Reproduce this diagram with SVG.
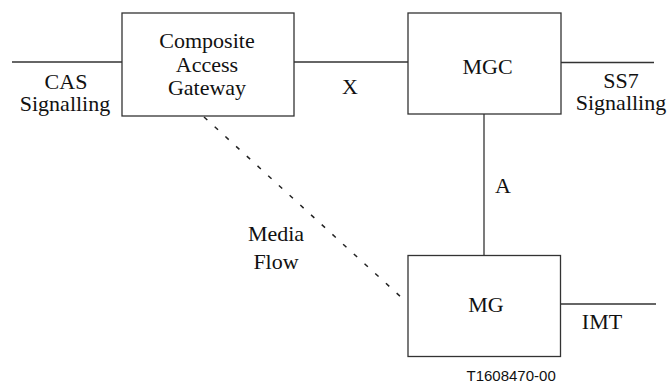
<svg xmlns="http://www.w3.org/2000/svg" width="669" height="384" viewBox="0 0 669 384">
<style>
.box{fill:#fff;stroke:#333;stroke-width:1.3}
.ln{fill:none;stroke:#333;stroke-width:1.3}
.dash{fill:none;stroke:#222;stroke-width:1.5;stroke-dasharray:4.5 10}
.t{font-family:'Liberation Serif','Times New Roman',Times,serif;font-size:22px;fill:#111;text-anchor:middle}
.s{font-family:'Liberation Sans',Arial,sans-serif;font-size:15px;fill:#111}
</style>
<rect width="669" height="384" fill="#fff"/>
<g id="connectors">
<line class="ln" x1="12" y1="62" x2="122" y2="62"/>
<line class="ln" x1="294" y1="62" x2="408" y2="62"/>
<line class="ln" x1="561" y1="62.5" x2="654" y2="62.5"/>
<line class="ln" x1="484" y1="114" x2="484" y2="255.5"/>
<line class="ln" x1="560.5" y1="304" x2="656" y2="304"/>
<line class="dash" x1="204" y1="117" x2="402" y2="298"/>
<text class="t" font-family="Liberation Serif, serif" x="66" y="89">CAS</text>
<text class="t" font-family="Liberation Serif, serif" x="65" y="111">Signalling</text>
<text class="t" font-family="Liberation Serif, serif" x="350" y="94">X</text>
<text class="t" font-family="Liberation Serif, serif" x="621" y="88">SS7</text>
<text class="t" font-family="Liberation Serif, serif" x="621" y="110">Signalling</text>
<text class="t" font-family="Liberation Serif, serif" x="503" y="193">A</text>
<text class="t" font-family="Liberation Serif, serif" x="276" y="241">Media</text>
<text class="t" font-family="Liberation Serif, serif" x="276" y="269">Flow</text>
<text class="t" font-family="Liberation Serif, serif" x="602" y="329">IMT</text>
</g>
<g id="cag">
<rect class="box" x="122" y="13" width="172" height="103"/>
<text class="t" font-family="Liberation Serif, serif" x="207" y="48">Composite</text>
<text class="t" font-family="Liberation Serif, serif" x="207" y="72">Access</text>
<text class="t" font-family="Liberation Serif, serif" x="207" y="95">Gateway</text>
</g>
<g id="mgc">
<rect class="box" x="408" y="13" width="153" height="101"/>
<text class="t" font-family="Liberation Serif, serif" x="487.5" y="74">MGC</text>
</g>
<g id="mg">
<rect class="box" x="408" y="255.5" width="152.5" height="101"/>
<text class="t" font-family="Liberation Serif, serif" x="486" y="311.5">MG</text>
</g>
<text class="s" x="466.5" y="380.5">T1608470-00</text>
</svg>
